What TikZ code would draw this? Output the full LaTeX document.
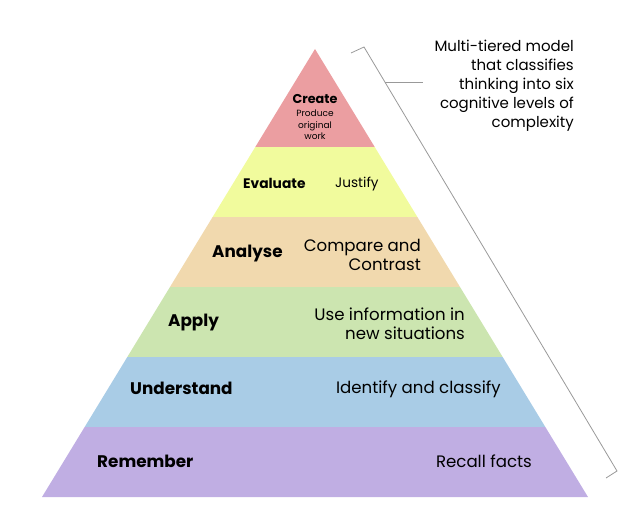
\documentclass[tikz,border=0pt]{standalone}
\usepackage{fontspec}
\setmainfont{Poppins}
\usepackage{xcolor}
\usetikzlibrary{calc,positioning}

\definecolor{createred}{HTML}{EB9EA1}
\definecolor{evalyellow}{HTML}{F1FB9D}
\definecolor{analysetan}{HTML}{F1D9AE}
\definecolor{applygreen}{HTML}{CCE5B0}
\definecolor{understandblue}{HTML}{A9CCE6}
\definecolor{rememberviolet}{HTML}{C0AEE3}

\begin{document}
\begin{tikzpicture}[x=1pt, y=-1pt, every node/.style={inner sep=0pt, font=\fontsize{16.6}{19}\selectfont}, level/.style={font=\fontsize{16.8}{19}\selectfont\bfseries}, node distance=2pt]
    \useasboundingbox (0,0) rectangle (630,511);
    \coordinate (apex) at (315,49);
    \coordinate (bl) at (42,497);
    \coordinate (br) at (588,497);
    % tiers of the pyramid
    \fill[createred] (apex) -- ($(apex)!0.21875!(bl)$) -- ($(apex)!0.21875!(br)$) -- cycle;
    \foreach \a/\b/\c in {0.21875/0.375/evalyellow, 0.375/0.53125/analysetan, 0.53125/0.6875/applygreen, 0.6875/0.84375/understandblue, 0.84375/1/rememberviolet}
      \fill[\c] ($(apex)!\a!(bl)$) -- ($(apex)!\b!(bl)$) -- ($(apex)!\b!(br)$) -- ($(apex)!\a!(br)$) -- cycle;
    % labels
    \node (Cr) [level, font=\fontsize{12.8}{14}\selectfont\bfseries] at (315,99) {Create};
    \node (CrT) [align=center, font=\fontsize{9}{11.4}\selectfont] at (315,125) {Produce\\original\\work};
    \node (Ev) [level, font=\fontsize{13.8}{14}\selectfont\bfseries, anchor=west] at (243,183) {Evaluate};
    \node (EvT) [anchor=west, font=\fontsize{13.6}{14}\selectfont] at (335,184) {Justify};
    \node (An) [level, anchor=west] at (212,254) {Analyse};
    \node (AnT) [anchor=east, align=right] at (421,255) {Compare and\\Contrast};
    \node (Ap) [level, anchor=west] at (168,323) {Apply};
    \node (ApT) [anchor=east, align=right] at (465,324) {Use information in\\new situations};
    \node (Un) [level, anchor=west] at (130,388) {Understand};
    \node (UnT) [anchor=east] at (501,389) {Identify and classify};
    \node (Re) [level, anchor=west] at (97,461) {Remember};
    \node (ReT) [anchor=east] at (532,461) {Recall facts};
    % bracket and note
    \node (note) [anchor=east, align=right, font=\fontsize{15}{19}\selectfont] at (574,86) {Multi-tiered model\\that classifies\\thinking into six\\cognitive levels of\\complexity};
    \coordinate (bT) at (364,47);
    \coordinate (bB) at (617,471);
    \coordinate (bk) at ($(bT)!0.0825!(bB)$);
    \draw[gray!80, line width=0.8pt] (351,53) -- (bT) -- (bB) -- (606,478);
    \draw[gray!80, line width=0.8pt, shorten >=11pt] (bk) -- (bk -| note.west);
  \end{tikzpicture}
\end{document}
